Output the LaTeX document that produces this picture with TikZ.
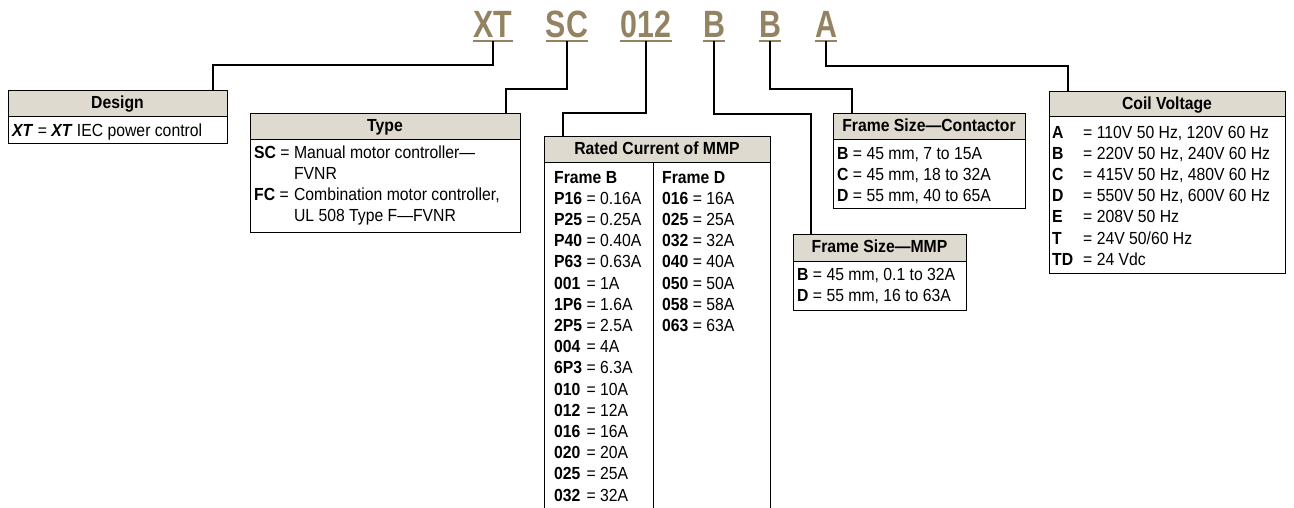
\documentclass[tikz,border=0pt]{standalone}
\usepackage{fontspec}
\setmainfont{Liberation Sans}[FakeStretch=0.9]
\newfontfamily\codefont{Liberation Sans}[FakeStretch=0.8]
\usetikzlibrary{positioning}
\definecolor{codetan}{RGB}{148,131,99}
\definecolor{headgray}{RGB}{222,218,208}
\tikzset{
    hdr/.style={draw, fill=headgray, line width=1pt, anchor=north west, inner sep=0pt, outer sep=0pt,
        text height=12.5pt, text depth=3pt, font=\bfseries\fontsize{17.5}{19}\selectfont},
    bdy/.style={draw, line width=1pt, inner sep=0pt, outer sep=0pt},
    txt/.style={anchor=north west, inner sep=0pt, font=\fontsize{17.5}{21.2}\selectfont},
    code/.style={text=codetan, inner sep=0pt, anchor=base, font=\codefont\bfseries\fontsize{38}{38}\selectfont},
    conn/.style={line width=2pt},
}
\newcommand{\cd}[1]{\textbf{#1}}

\begin{document}
\begin{tikzpicture}[x=1pt, y=-1pt]
    \useasboundingbox (0,0) rectangle (1294,508);
    % catalogue number
    \foreach \nm/\txt/\x in {c-xt/XT/493, c-sc/SC/567, c-012/012/646, c-b1/B/714, c-b2/B/770, c-a/A/826}{
        \node[code] (\nm) at (\x,38) {\txt};
        \draw[codetan, line width=1.5pt] ([yshift=-3pt]\nm.base west) -- ([yshift=-3pt]\nm.base east);
    }
    % key boxes
    \node[hdr, minimum width=219pt, minimum height=26pt] (design) at (8,91) {Design};
    \node[bdy, minimum width=219pt, minimum height=27pt, below=0pt of design] (design-b) {};
    \node[txt] (design-t) at (12,121) {\begin{tabular}{@{}l@{}}
        \textbf{\textit{XT}} = \textbf{\textit{XT}} IEC power control
    \end{tabular}};

    \node[hdr, minimum width=270pt, minimum height=26pt] (type) at (250,114) {Type};
    \node[bdy, minimum width=270pt, minimum height=92pt, below=0pt of type] (type-b) {};
    \node[txt] (type-t) at (254,143) {\begin{tabular}{@{}l@{\ }l@{}}
        \cd{SC} = & Manual motor controller—\\
        & FVNR\\
        \cd{FC} = & Combination motor controller,\\
        & UL 508 Type F—FVNR
    \end{tabular}};

    \node[hdr, minimum width=226pt, minimum height=26pt] (rated) at (544,137) {Rated Current of MMP};
    \node[bdy, minimum width=226pt, minimum height=348pt, below=0pt of rated] (rated-b) {};
    \draw[line width=1pt] (rated-b.north -| 653,0) -- (rated-b.south -| 653,0);
    \node[txt] (rated-t1) at (554,168) {\begin{tabular}{@{}l@{\ = }l@{}}
        \multicolumn{2}{@{}l@{}}{\cd{Frame B}}\\
        \cd{P16} & 0.16A\\ \cd{P25} & 0.25A\\ \cd{P40} & 0.40A\\ \cd{P63} & 0.63A\\
        \cd{001} & 1A\\ \cd{1P6} & 1.6A\\ \cd{2P5} & 2.5A\\ \cd{004} & 4A\\
        \cd{6P3} & 6.3A\\ \cd{010} & 10A\\ \cd{012} & 12A\\ \cd{016} & 16A\\
        \cd{020} & 20A\\ \cd{025} & 25A\\ \cd{032} & 32A
    \end{tabular}};
    \node[txt] (rated-t2) at (662,168) {\begin{tabular}{@{}l@{\ = }l@{}}
        \multicolumn{2}{@{}l@{}}{\cd{Frame D}}\\
        \cd{016} & 16A\\ \cd{025} & 25A\\ \cd{032} & 32A\\ \cd{040} & 40A\\
        \cd{050} & 50A\\ \cd{058} & 58A\\ \cd{063} & 63A
    \end{tabular}};

    \node[hdr, minimum width=173pt, minimum height=27pt] (mmp) at (793,234) {Frame Size—MMP};
    \node[bdy, minimum width=173pt, minimum height=49pt, below=0pt of mmp] (mmp-b) {};
    \node[txt] (mmp-t) at (797,265) {\begin{tabular}{@{}l@{\ = }l@{}}
        \cd{B} & 45 mm, 0.1 to 32A\\
        \cd{D} & 55 mm, 16 to 63A
    \end{tabular}};

    \node[hdr, minimum width=192pt, minimum height=26pt] (contactor) at (833,114) {Frame Size—Contactor};
    \node[bdy, minimum width=192pt, minimum height=69pt, below=0pt of contactor] (contactor-b) {};
    \node[txt] (contactor-t) at (837,144) {\begin{tabular}{@{}l@{\ = }l@{}}
        \cd{B} & 45 mm, 7 to 15A\\
        \cd{C} & 45 mm, 18 to 32A\\
        \cd{D} & 55 mm, 40 to 65A
    \end{tabular}};

    \node[hdr, minimum width=236pt, minimum height=25pt] (voltage) at (1049,92) {Coil Voltage};
    \node[bdy, minimum width=236pt, minimum height=156pt, below=0pt of voltage] (voltage-b) {};
    \node[txt] (voltage-t) at (1052,123) {\begin{tabular}{@{}p{31pt}@{}l@{}}
        \cd{A} & = 110V 50 Hz, 120V 60 Hz\\
        \cd{B} & = 220V 50 Hz, 240V 60 Hz\\
        \cd{C} & = 415V 50 Hz, 480V 60 Hz\\
        \cd{D} & = 550V 50 Hz, 600V 60 Hz\\
        \cd{E} & = 208V 50 Hz\\
        \cd{T} & = 24V 50/60 Hz\\
        \cd{TD} & = 24 Vdc
    \end{tabular}};

    % leaders
    \draw[conn] ([yshift=-3pt]c-xt.base) -- ++(0,24) -| ([xshift=205pt]design.north west);
    \draw[conn] ([yshift=-3pt]c-sc.base) -- ++(0,48) -| ([xshift=256pt]type.north west);
    \draw[conn] ([yshift=-3pt]c-012.base) -- ++(0,72) -| ([xshift=19pt]rated.north west);
    \draw[conn] ([yshift=-3pt]c-b1.base) -- ++(0,73) -| ([xshift=18pt]mmp.north west);
    \draw[conn] ([yshift=-3pt]c-b2.base) -- ++(0,48) -| ([xshift=19pt]contactor.north west);
    \draw[conn] ([yshift=-3pt]c-a.base) -- ++(0,25) -| ([xshift=19pt]voltage.north west);
\end{tikzpicture}
\end{document}
